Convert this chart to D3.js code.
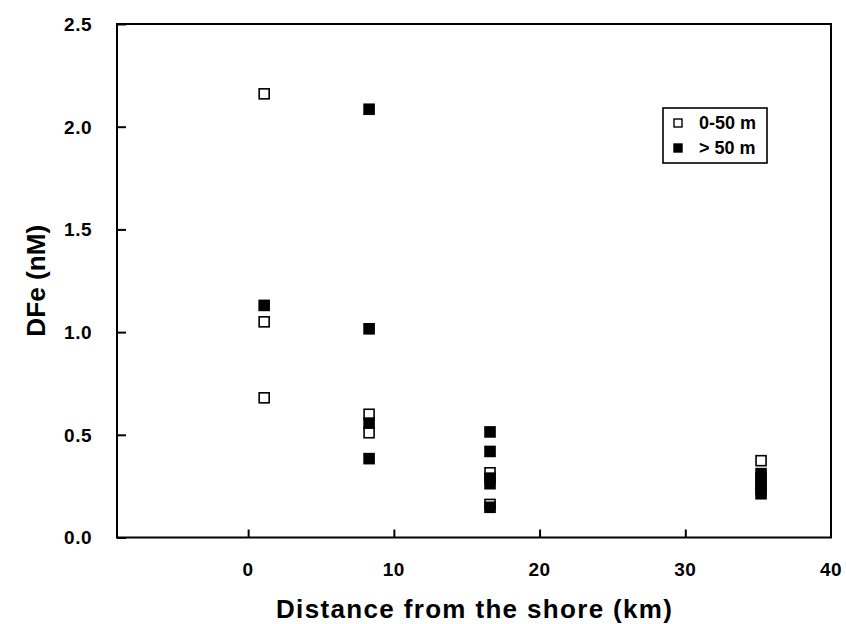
<!DOCTYPE html>
<html>
<head>
<meta charset="utf-8">
<script src="https://cdn.jsdelivr.net/npm/d3@7"></script>
<style>
  body { margin: 0; background: #fff; }
  svg { display: block; font-family: "Liberation Sans", Arial, sans-serif; font-weight: bold; }
</style>
</head>
<body>
<svg width="846" height="624"></svg>
<script>
// 0-50 m samples
var shallowDist = [1.1, 1.1, 1.1, 8.3, 8.3, 16.6, 16.6, 35.2];
var shallowFe   = [2.16, 1.05, 0.68, 0.60, 0.51, 0.315, 0.161, 0.374];
// > 50 m samples
var deepDist = [1.1, 8.3, 8.3, 8.3, 8.3, 16.6, 16.6, 16.6, 16.6, 16.6, 35.2, 35.2, 35.2, 35.2, 35.2];
var deepFe   = [1.13, 2.085, 1.016, 0.557, 0.384, 0.514, 0.419, 0.289, 0.262, 0.147, 0.311, 0.29, 0.26, 0.235, 0.213];

var xTicks = [0, 10, 20, 30, 40];
var yTicks = [0, 0.5, 1.0, 1.5, 2.0, 2.5];
var legendLabels = ["0-50 m", "> 50 m"];

var svg = d3.select("svg"),
    margin = {top: 24, right: 15, bottom: 86.5, left: 117},
    width = +svg.attr("width") - margin.left - margin.right,
    height = +svg.attr("height") - margin.top - margin.bottom;

var x = d3.scaleLinear().domain([-9, 40]).range([0, width]),
    y = d3.scaleLinear().domain([0, 2.5]).range([height, 0]);

var g = svg.append("g")
    .attr("transform", "translate(" + margin.left + "," + margin.top + ")");

// inward ticks, labels drawn by hand for spacing
g.append("g")
    .attr("transform", "translate(0," + height + ")")
    .call(d3.axisTop(x).tickValues(xTicks.slice(0, 4)).tickSize(8).tickFormat(""))
    .call(function(a) { a.select(".domain").remove(); a.selectAll("line").attr("stroke-width", 2); });

g.append("g")
    .call(d3.axisRight(y).tickValues(yTicks).tickSize(9).tickFormat(""))
    .call(function(a) { a.select(".domain").remove(); a.selectAll("line").attr("stroke-width", 2); });

g.selectAll(".xlab")
  .data(xTicks)
  .enter().append("text")
    .attr("x", function(d) { return x(d); })
    .attr("y", height + 38.5)
    .attr("text-anchor", "middle")
    .style("font-size", "19px")
    .style("letter-spacing", "0.5px")
    .text(function(d) { return d; });

g.selectAll(".ylab")
  .data(yTicks)
  .enter().append("text")
    .attr("x", -25)
    .attr("y", function(d) { return y(d); })
    .attr("dy", "0.36em")
    .attr("text-anchor", "end")
    .style("font-size", "19px")
    .style("letter-spacing", "0.5px")
    .text(function(d) { return d.toFixed(1); });

g.append("rect")
    .attr("width", width)
    .attr("height", height)
    .attr("fill", "none")
    .attr("stroke", "#000")
    .attr("stroke-width", 2);

g.append("text")
    .attr("x", width / 2)
    .attr("y", height + 80)
    .attr("text-anchor", "middle")
    .attr("textLength", 396)
    .style("font-size", "26px")
    .text("Distance from the shore (km)");

g.append("text")
    .attr("transform", "translate(-72," + (height / 2) + ") rotate(-90)")
    .attr("text-anchor", "middle")
    .attr("textLength", 112)
    .attr("lengthAdjust", "spacingAndGlyphs")
    .style("font-size", "26px")
    .text("DFe (nM)");

var shallow = shallowDist.map(function(d, i) { return {dist: d, fe: shallowFe[i]}; });
var deep = deepDist.map(function(d, i) { return {dist: d, fe: deepFe[i]}; });

var s = 10;
g.selectAll(".open")
  .data(shallow)
  .enter().append("rect")
    .attr("x", function(d) { return x(d.dist) - s / 2; })
    .attr("y", function(d) { return y(d.fe) - s / 2; })
    .attr("width", s).attr("height", s)
    .attr("fill", "#fff").attr("stroke", "#000").attr("stroke-width", 1.6);

g.selectAll(".filled")
  .data(deep)
  .enter().append("rect")
    .attr("x", function(d) { return x(d.dist) - s / 2; })
    .attr("y", function(d) { return y(d.fe) - s / 2; })
    .attr("width", s).attr("height", s)
    .attr("fill", "#000").attr("stroke", "#000").attr("stroke-width", 1.6);

// legend
var lg = svg.append("g").attr("transform", "translate(663,108)");
lg.append("rect")
    .attr("width", 104).attr("height", 55)
    .attr("fill", "#fff").attr("stroke", "#000").attr("stroke-width", 1.6);
lg.selectAll(".key")
  .data(legendLabels)
  .enter().append("rect")
    .attr("x", 11).attr("y", function(d, i) { return 11 + i * 25; })
    .attr("width", 8).attr("height", 8)
    .attr("fill", function(d, i) { return i ? "#000" : "#fff"; })
    .attr("stroke", "#000").attr("stroke-width", 1.4);
lg.selectAll(".ltxt")
  .data(legendLabels)
  .enter().append("text")
    .attr("x", 36).attr("y", function(d, i) { return 21 + i * 25; })
    .style("font-size", "18px")
    .text(function(d) { return d; });
</script>
</body>
</html>
